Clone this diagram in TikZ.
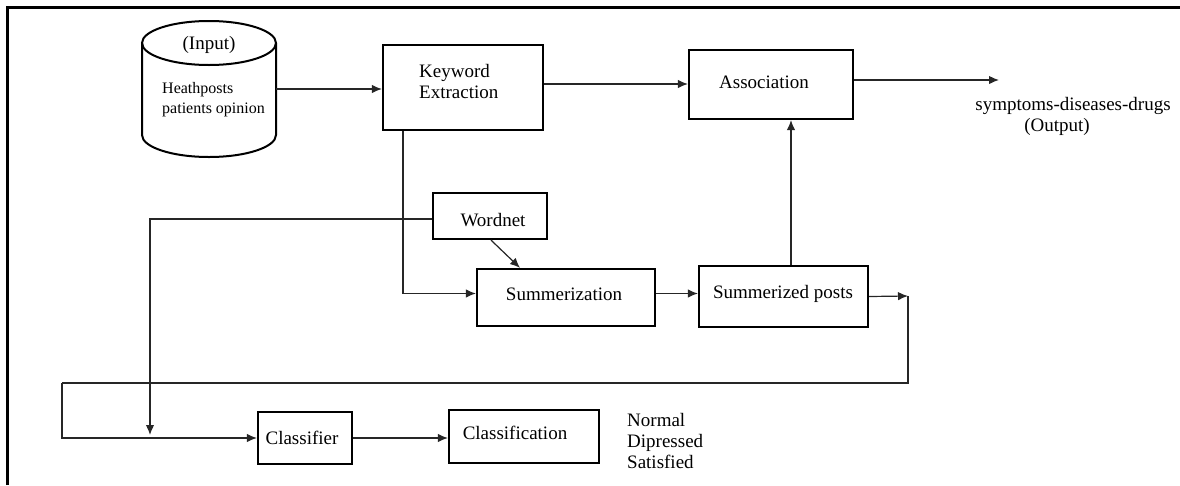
\documentclass[tikz,border=0pt]{standalone}
\usepackage{fontspec}
\setmainfont{Liberation Serif}
\usetikzlibrary{arrows.meta}
\begin{document}
\begin{tikzpicture}[x=1pt,y=-1pt,
  box/.style={draw, line width=2.2pt, inner sep=0pt},
  txt/.style={font=\fontsize{19}{21}\selectfont, inner sep=0pt, align=left},
  smalltxt/.style={font=\fontsize{16}{20}\selectfont, inner sep=0pt, align=left},
  conn/.style={line width=1.2pt, draw=black!85},
  arr/.style={conn, -{Latex[length=10pt,width=8.5pt]}},
]
\useasboundingbox (0,0) rectangle (1180,485);
% frame
\draw[line width=3pt] (7.5,485) -- (7.5,7.5) -- (1180,7.5);

% database cylinder
\node[inner sep=0pt, minimum width=134, minimum height=136] (db) at (209,89) {};
\draw[line width=2pt] (209,43) ellipse [x radius=67, y radius=22];
\draw[line width=2pt] (142,43) -- (142,135) arc[start angle=180, end angle=0, x radius=67, y radius=22] -- (276,43);

% boxes
\node[box, minimum width=160, minimum height=85] (kw) at (463,87.5) {};
\node[box, minimum width=164, minimum height=69] (assoc) at (771,84.5) {};
\node[box, minimum width=114, minimum height=46] (wn) at (490,216) {};
\node[box, minimum width=178, minimum height=57] (summ) at (566,297.5) {};
\node[box, minimum width=169, minimum height=61] (sp) at (783.5,296.5) {};
\node[box, minimum width=94, minimum height=52] (clf) at (305,438) {};
\node[box, minimum width=150, minimum height=53] (cls) at (524,436.5) {};

% texts
\node[txt] (tin) at (209,45) {(Input)};
\node[smalltxt, anchor=west] (tdb) at (162,100) {Heathposts\\patients opinion};
\node[txt, anchor=west] (tkw) at (419,81) {Keyword\\Extraction};
\node[txt] (tas) at (764,82) {Association};
\node[txt] (tout1) at (1073,106) {symptoms-diseases-drugs};
\node[txt] (tout2) at (1057,127) {(Output)};
\node[txt] (twn) at (493,220) {Wordnet};
\node[txt] (tsm) at (564,294) {Summerization};
\node[txt] (tsp) at (783,294) {Summerized posts};
\node[txt] (tclf) at (302,438) {Classifier};
\node[txt] (tcls) at (515,433) {Classification};
\node[txt, anchor=west] (tres) at (627,441) {Normal\\Dipressed\\Satisfied};

% coordinates
\coordinate (outtip) at (999,80);
\coordinate (wnend) at (150,435);
\coordinate (c1) at (908,296);
\coordinate (c2) at (62,383);

% connectors
\draw[arr] (db.east) -- (kw.west |- db.east);
\draw[arr] ([yshift=3.5pt]kw.east) -- ([yshift=0.5pt]assoc.west);
\draw[arr] ([yshift=4.5pt]assoc.east) -- (outtip);
\draw[arr] ([xshift=-60pt]kw.south) |- ([yshift=4pt]summ.west);
\draw[arr] ([xshift=1pt]wn.south) -- ([xshift=-46pt]summ.north);
\draw[arr] ([yshift=-3pt]wn.west) -| (wnend);
\draw[arr] ([yshift=4pt]summ.east) -- ([yshift=3pt]sp.west);
\draw[arr] ([xshift=7.5pt]sp.north) -- ([xshift=20pt]assoc.south);
\draw[arr] (sp.east) -- (c1);
\draw[conn] (c1) |- (c2);
\draw[arr] (c2) |- (clf.west);
\draw[arr] (clf.east) -- (cls.west |- clf.east);
\end{tikzpicture}
\end{document}
